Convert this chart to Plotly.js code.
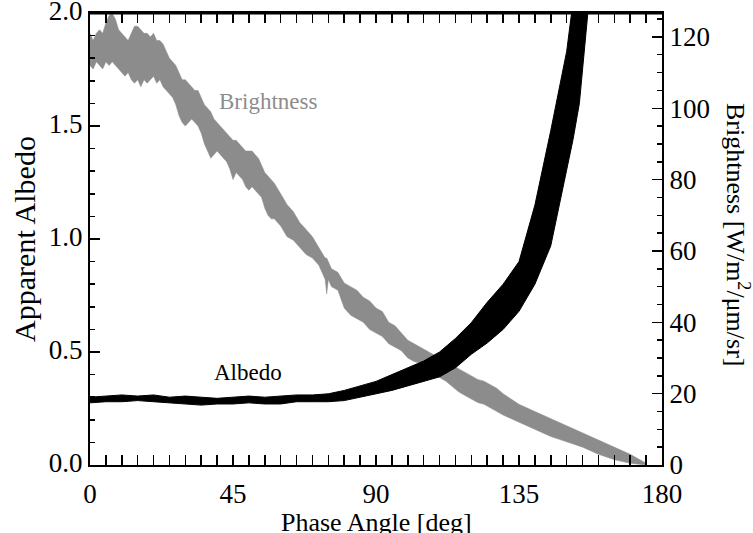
<!DOCTYPE html>
<html>
<head>
<meta charset="utf-8">
<script src="https://cdn.plot.ly/plotly-3.0.1.min.js"></script>
<style>html,body{margin:0;padding:0;background:#fff;}#chart{width:753px;height:533px;}</style>
</head>
<body>
<div id="chart"></div>
<script>
// Brightness band (W/m^2/um/sr): phase angle, upper and lower edges
const phaseB = [0,1,2,3,4,5,6,7,8,9,10,11,12,13,14,15,16,17,18,19,20,21,22,23,24,25,26,27,28,29,30,31,32,33,34,35,36,37,38,39,40,41,42,43,44,45,46,47,48,49,50,51,52,53,54,55,56,57,58,60,62,64,66,68,70,72,74,74.5,75,76,78,80,82,84,86,88,90,92,94,96,98,100,102,104,106,108,110,112,114,116,118,120,122,124,126,128,130,135,140,145,150,155,160,165,170,175];
const brightTop = [121,119,121,122,121,124,126,126.5,125,122,121,120,119,121,123,123,122,121,121,120,121,119,119,118,116,114,113,112,110,108,108,107,106,105,105,103,101,100,99,97,96,95,94,93,92,91,91,90,89,88,88,88,87,86,84,82,81,80,79,76,73,71,68,66,64,61,58,58,57,55,54,51,50,49,47,46,44,43,40,39,37,35,34,33,32,31,30,29,28,27,26,25,24,23.5,22.5,21.5,20,17,15,13,11,9,7,5,3,0.5];
const brightBot = [112,111,113,112,111,113,112,113,112,111,110,109,110,108,107,108,106,108,107,108,109,107,108,106,105,104,103,101,98,96,95,96,97,96,95,93,90,88,86,87,88,87,86,85,83,80,82,81,80,78,77,78,77,76,75,72,70,69,69,67,64,63,61,59,58,56,52,48,52,50,49,44,42,41,40,38,37,36,34,33,32,30,29,28.5,28,26,24.5,23.5,22,20.5,19.5,18.5,17.5,17,16,15,14,12,10,8,6.5,5,3,1.5,0.5,0];

// Apparent albedo band
const phaseA = [0,5,10,15,20,25,30,35,40,45,50,55,60,65,70,75,80,85,90,95,100,105,110,115,120,125,130,135,140,145,150,152,154,156,157];
const albedoTop = [0.30,0.305,0.31,0.305,0.31,0.30,0.305,0.30,0.295,0.30,0.305,0.30,0.305,0.31,0.31,0.315,0.33,0.35,0.37,0.40,0.43,0.46,0.50,0.56,0.63,0.72,0.80,0.90,1.15,1.48,1.83,2.05,2.05,2.05,2.05];
const albedoBot = [0.275,0.28,0.28,0.285,0.28,0.275,0.27,0.265,0.27,0.27,0.275,0.27,0.27,0.28,0.28,0.28,0.285,0.30,0.315,0.33,0.35,0.37,0.39,0.43,0.49,0.54,0.60,0.68,0.80,0.97,1.31,1.44,1.60,1.90,2.05];

const xTicks = [0,45,90,135,180];
const albedoTicks = [0,0.5,1.0,1.5,2.0];
const brightTicks = [0,20,40,60,80,100,120];

const X_RANGE = [0, 180];
const ALB_RANGE = [0, 2.0];
const BRI_RANGE = [0, 126.7];

const FONT = 'Liberation Serif, Times New Roman, serif';
const GRAY = '#8c8c8c';

// brightness on the main y axis (right side), albedo on the overlaying y2 (left side) so it is drawn on top
const traces = [
  {x: phaseB, y: brightBot, xaxis: 'x', yaxis: 'y', mode: 'lines', line: {width: 0.5, color: GRAY}, hoverinfo: 'skip', showlegend: false},
  {x: phaseB, y: brightTop, xaxis: 'x', yaxis: 'y', mode: 'lines', line: {width: 0.5, color: GRAY}, fill: 'tonexty', fillcolor: GRAY, name: 'Brightness', showlegend: false},
  {x: phaseA, y: albedoBot, xaxis: 'x', yaxis: 'y2', mode: 'lines', line: {width: 1, color: '#000'}, hoverinfo: 'skip', showlegend: false},
  {x: phaseA, y: albedoTop, xaxis: 'x', yaxis: 'y2', mode: 'lines', line: {width: 1, color: '#000'}, fill: 'tonexty', fillcolor: '#000', name: 'Albedo', showlegend: false},
  // top frame edge of the plot box, drawn along the upper end of the albedo axis range
  {x: X_RANGE, y: [ALB_RANGE[1], ALB_RANGE[1]], xaxis: 'x', yaxis: 'y2', mode: 'lines',
   line: {width: 3, color: '#000'}, cliponaxis: false, hoverinfo: 'skip', showlegend: false}
];

const tickCommon = {ticks: 'inside', ticklen: 10, tickwidth: 1.5, tickcolor: '#000',
  showline: true, linecolor: '#000', linewidth: 2, showgrid: false, zeroline: false,
  tickfont: {family: FONT, size: 27}};

const layout = {
  width: 753, height: 533,
  margin: {l: 90, r: 91, t: 13, b: 68},
  paper_bgcolor: '#fff', plot_bgcolor: '#fff',
  font: {family: FONT, size: 27, color: '#000'},
  showlegend: false,
  xaxis: Object.assign({}, tickCommon, {
    range: X_RANGE, tickvals: xTicks, ticktext: xTicks.map(String),
    mirror: 'allticks',
    minor: {dtick: 5, ticks: 'inside', ticklen: 5, tickwidth: 1.5, tickcolor: '#000'},
    ticklabelstandoff: 4
  }),
  yaxis: Object.assign({}, tickCommon, {
    side: 'right', range: BRI_RANGE, tickvals: brightTicks, ticktext: brightTicks.map(String),
    minor: {dtick: 5, ticks: 'inside', ticklen: 5, tickwidth: 1.5, tickcolor: '#000'}
  }),
  yaxis2: Object.assign({}, tickCommon, {
    side: 'left', overlaying: 'y', range: ALB_RANGE, tickvals: albedoTicks,
    ticktext: albedoTicks.map(v => v.toFixed(1)),
    ticklabeloverflow: 'allow', ticklabelshift: -2,
    minor: {dtick: 0.1, ticks: 'inside', ticklen: 5, tickwidth: 1.5, tickcolor: '#000'},
    title: {text: 'Apparent Albedo', font: {family: FONT, size: 30}, standoff: 4}
  }),
  shapes: [
    {type: 'line', xref: 'paper', yref: 'paper', x0: 0, x1: 1, y0: 1, y1: 1,
     line: {color: '#000', width: 2}, layer: 'above'}
  ],
  annotations: [
    {text: 'Brightness', x: 56, y: 1.61, xref: 'x', yref: 'y2', showarrow: false,
     font: {family: FONT, size: 23, color: GRAY}},
    {text: 'Albedo', x: 49.7, y: 0.41, xref: 'x', yref: 'y2', showarrow: false,
     font: {family: FONT, size: 23, color: '#000'}},
    {text: 'Phase Angle [deg]', x: 0.5, y: 0, xref: 'paper', yref: 'paper', yanchor: 'middle',
     yshift: -57, showarrow: false, font: {family: FONT, size: 26, color: '#000'}},
    {text: 'Brightness [W/m<sup>2</sup>/μm/sr]', x: 1, y: 0.51, xref: 'paper', yref: 'paper',
     xshift: 94, textangle: 90, showarrow: false, font: {family: FONT, size: 26, color: '#000'}}
  ]
};

Plotly.newPlot('chart', traces, layout, {displayModeBar: false, staticPlot: true});
</script>
</body>
</html>
